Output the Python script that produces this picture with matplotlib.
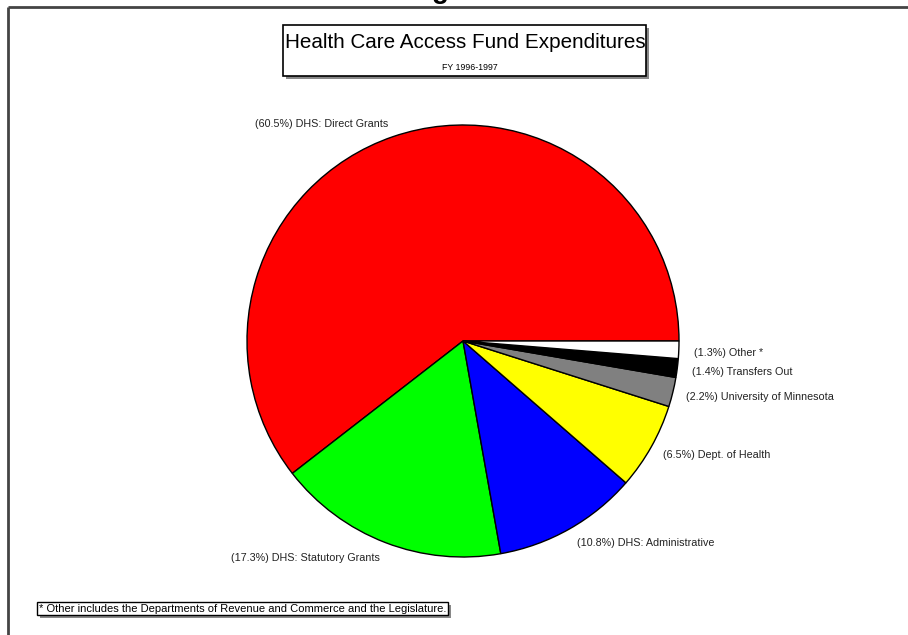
import matplotlib.pyplot as plt
from matplotlib.patches import Rectangle

# %% Data:
categories = ['DHS: Direct Grants', 'DHS: Statutory Grants', 'DHS: Administrative',
              'Dept. of Health', 'University of Minnesota', 'Transfers Out', 'Other *']
shares = [60.5, 17.3, 10.8, 6.5, 2.2, 1.4, 1.3]  # [%]
colors = ['#ff0000', '#00ff00', '#0000ff', '#ffff00', '#808080', '#000000', '#ffffff']

title = 'Health Care Access Fund Expenditures'
subtitle = 'FY 1996-1997'
footnote = '* Other includes the Departments of Revenue and Commerce and the Legislature.'

# label anchor points in pixels (x, y from top), left aligned
label_pos = [(255, 124), (231, 558), (577, 543), (663, 455),
             (686, 397), (692, 372), (694, 353)]

# %% Figure:
W, H = 908, 635
plt.rcParams['font.family'] = ['Liberation Sans', 'DejaVu Sans']
fig = plt.figure(figsize=(W/100, H/100), dpi=100)
ax = fig.add_axes([0, 0, 1, 1])


def py(y):
    # pixel row from top -> data y
    return H - y


ax.pie(shares, colors=colors, startangle=0, counterclock=True,
       center=(463, py(341)), radius=216,
       wedgeprops=dict(edgecolor='black', linewidth=1.0))
ax.set_xlim(0, W)
ax.set_ylim(0, H)
ax.set_aspect('auto')
ax.axis('off')

for (x, y), cat, v in zip(label_pos, categories, shares):
    ax.text(x, py(y), f'({v}%) {cat}', fontsize=7.75, ha='left', va='center',
            color='#222222')

# frame lines
ax.plot([8, W], [py(7), py(7)], color='#444444', lw=2, solid_capstyle='butt')
ax.plot([8, 8], [py(7), 0], color='#444444', lw=2, solid_capstyle='butt')

# clipped heading above the frame
ax.text(440, py(-1.5), 'g', fontsize=20, fontweight='bold', ha='center',
        va='baseline', clip_on=False)

# title box with shadow
ax.add_patch(Rectangle((286, py(79)), 363, 51, facecolor='#888888',
                       edgecolor='none'))
ax.add_patch(Rectangle((283, py(76)), 363, 51, facecolor='white',
                       edgecolor='black', lw=1.2))
ax.text(465, py(43), title, fontsize=14.9, ha='center', va='center')
ax.text(470, py(68), subtitle, fontsize=6.3, ha='center', va='center')

# footnote box with shadow
ax.add_patch(Rectangle((40, py(618)), 411, 13, facecolor='#888888',
                       edgecolor='none'))
ax.add_patch(Rectangle((37, py(615)), 411, 13, facecolor='white',
                       edgecolor='black', lw=1.0))
ax.text(39, py(608.5), footnote, fontsize=8, ha='left', va='center')

fig.savefig('out.png', dpi=100)
